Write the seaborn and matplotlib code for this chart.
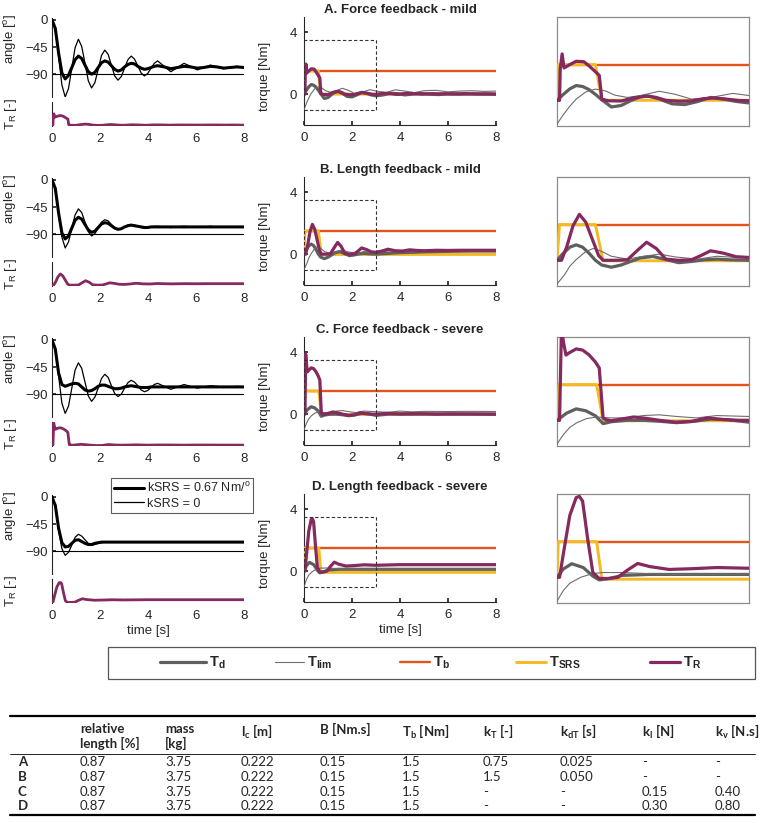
import numpy as np
import pandas as pd
import matplotlib
matplotlib.use('Agg')
import matplotlib.pyplot as plt
import seaborn as sns
from matplotlib.patches import Rectangle
from matplotlib.lines import Line2D

# ------------------------------------------------------------------ data
ROW_TITLES = ['A. Force feedback - mild', 'B. Length feedback - mild',
              'C. Force feedback - severe', 'D. Length feedback - severe']

ANGLE_T = [0, 0.1375, 0.275, 0.4125, 0.55, 0.6875, 0.825, 0.9625, 1.1, 1.2375, 1.375,
           1.5125, 1.65, 1.7875, 1.925, 2.0625, 2.2, 2.3375, 2.475, 2.6125, 2.75, 2.8875,
           3.025, 3.1625, 3.3, 3.4375, 3.575, 3.7125, 3.85, 3.9875, 4.125, 4.2625, 4.4,
           4.675, 4.95, 5.225, 5.5, 5.775, 6.05, 6.325, 6.6, 6.875, 7.15, 7.425, 7.7, 8.0]

A_ANG_NO = [0, -15, -60, -108, -128, -114, -80, -46, -32, -44, -72, -101, -113, -104, -82, -59,
            -50, -57, -75, -93, -100, -94, -80, -66, -60, -65, -76, -88, -93, -89, -80, -72, -68,
            -77, -86, -79, -72, -77, -83, -79, -75, -78, -81, -79, -77, -79]
A_ANG_SRS = [0, -14, -55, -88, -98, -92, -79, -66, -60, -64, -75, -86, -90, -87, -79, -71,
             -68, -70, -76, -82, -85, -83, -78, -74, -72, -73, -77, -80, -82, -81, -79, -77, -76,
             -78, -81, -79, -77, -78, -80, -79, -77, -78, -80, -79, -78, -79]
B_ANG_NO = [0, -14, -55, -95, -113, -103, -80, -58, -48, -54, -70, -86, -93, -89, -80, -70,
            -66, -68, -74, -80, -82, -81, -78, -75, -74, -75, -77, -79, -80, -80, -78, -77, -77,
            -78, -79, -78, -77, -78, -78, -78, -77, -78, -78, -78, -78, -78]
B_ANG_SRS = [0, -14, -55, -88, -98, -93, -80, -67, -62, -65, -74, -83, -87, -85, -79, -73,
             -71, -72, -76, -80, -82, -81, -78, -76, -75, -76, -77, -78, -79, -79, -78, -78, -78,
             -78, -78, -78, -78, -78, -78, -78, -78, -78, -78, -78, -78, -78]
C_ANG_NO = [0, -15, -60, -105, -122, -110, -80, -50, -38, -47, -70, -93, -102, -95, -80, -64,
            -57, -62, -76, -89, -94, -90, -80, -71, -67, -70, -76, -83, -86, -84, -79, -74, -72,
            -77, -82, -78, -74, -77, -80, -78, -76, -77, -79, -78, -77, -78]
C_ANG_SRS = [0, -15, -55, -74, -77, -75, -73, -72, -73, -78, -83, -85, -84, -81, -77, -75,
             -75, -77, -79, -81, -81, -80, -78, -77, -76, -77, -78, -79, -79, -79, -78, -78, -78,
             -78, -78, -78, -78, -78, -78, -78, -78, -78, -78, -78, -78, -78]
D_ANG_NO = [0, -14, -55, -86, -97, -92, -80, -67, -62, -65, -71, -77, -80, -79, -77, -76,
            -75, -75, -75, -75, -75, -75, -75, -75, -75, -75, -75, -75, -75, -75, -75, -75, -75,
            -75, -75, -75, -75, -75, -75, -75, -75, -75, -75, -75, -75, -75]
D_ANG_SRS = [0, -14, -52, -76, -83, -82, -77, -72, -71, -74, -77, -79, -79, -77, -76, -75,
             -75, -75, -75, -75, -75, -75, -75, -75, -75, -75, -75, -75, -75, -75, -75, -75, -75,
             -75, -75, -75, -75, -75, -75, -75, -75, -75, -75, -75, -75, -75]

TB_T = [0, 8]
TB_V = [1.5, 1.5]

# Row A
A_TR_T = [0, 0.04, 0.05, 0.08, 0.11, 0.2, 0.3, 0.42, 0.5, 0.6, 0.66, 0.7, 0.8, 1.0, 1.2, 1.4,
          1.55, 1.7, 1.9, 2.1, 2.3, 2.45, 2.65, 2.85, 3.0, 3.3, 3.6, 3.9, 4.2, 4.5, 4.9, 5.3,
          5.7, 6.2, 6.7, 7.2, 7.6, 8.0]
A_TR_V = [0, 0, 1.3, 1.95, 1.36, 1.5, 1.64, 1.62, 1.45, 1.2, 1.05, 0.05, -0.02, -0.03, 0.1,
          0.18, 0.12, 0.0, -0.04, -0.03, 0.07, 0.1, 0.05, -0.01, -0.02, 0.06, 0.03, -0.02, 0.04,
          0.04, 0.0, 0.03, 0.02, 0.01, 0.03, 0.01, 0.02, 0.0]
A_SRS_T = [0, 0.02, 0.6, 0.7, 8.0]
A_SRS_V = [0, 1.5, 1.5, 0.0, 0.0]
A_TD_T = [0, 0.1, 0.2, 0.3, 0.4, 0.5, 0.6, 0.7, 0.85, 1.0, 1.15, 1.3, 1.45, 1.6, 1.8, 2.0, 2.2,
          2.4, 2.6, 2.8, 3.0, 3.3, 3.6, 3.9, 4.2, 4.5, 4.8, 5.2, 5.6, 6.0, 6.5, 7.0, 7.5, 8.0]
A_TD_V = [0, 0.25, 0.48, 0.62, 0.58, 0.45, 0.25, 0.02, -0.28, -0.22, -0.02, 0.15, 0.17, 0.05,
          -0.15, -0.18, -0.05, 0.12, 0.05, -0.05, -0.11, -0.05, 0.06, 0.03, -0.05, 0.0, 0.05,
          0.0, -0.03, 0.03, 0.0, 0.02, 0.0, 0.0]
A_LIM_T = [0, 0.1, 0.2, 0.3, 0.45, 0.6, 0.75, 0.9, 1.1, 1.3, 1.6, 1.85, 2.1, 2.4, 2.75, 3.0,
           3.4, 3.8, 4.2, 4.6, 5.0, 5.5, 6.0, 6.5, 7.0, 7.5, 8.0]
A_LIM_V = [-1.0, -0.6, -0.25, 0.05, 0.35, 0.47, 0.4, 0.22, 0.12, 0.2, 0.38, 0.25, 0.05, 0.12,
           0.29, 0.2, 0.1, 0.28, 0.2, 0.1, 0.22, 0.25, 0.15, 0.2, 0.22, 0.18, 0.2]

# Row B
B_TR_T = [0, 0.07, 0.15, 0.25, 0.35, 0.45, 0.55, 0.65, 0.72, 0.9, 1.1, 1.25, 1.4, 1.55, 1.7,
          1.9, 2.1, 2.25, 2.4, 2.6, 2.8, 3.0, 3.25, 3.5, 3.8, 4.1, 4.4, 4.7, 5.0, 5.5, 6.0, 6.5,
          7.0, 7.5, 8.0]
B_TR_V = [0, 0, 0.55, 1.45, 1.93, 1.6, 0.9, 0.2, 0.0, 0.0, 0.02, 0.4, 0.76, 0.5, 0.05, 0.0,
          0.02, 0.2, 0.4, 0.3, 0.15, 0.12, 0.2, 0.32, 0.22, 0.2, 0.28, 0.24, 0.22, 0.25, 0.24,
          0.25, 0.25, 0.25, 0.25]
B_SRS_T = [0, 0.04, 0.6, 0.72, 8.0]
B_SRS_V = [0, 1.5, 1.5, -0.02, -0.02]
B_TD_T = [0, 0.1, 0.2, 0.3, 0.4, 0.5, 0.6, 0.7, 0.85, 1.0, 1.15, 1.3, 1.5, 1.7, 1.9, 2.1, 2.3,
          2.5, 2.7, 3.0, 3.5, 4.0, 4.5, 5.0, 6.0, 7.0, 8.0]
B_TD_V = [0, 0.3, 0.55, 0.65, 0.55, 0.3, 0.0, -0.2, -0.29, -0.2, -0.05, 0.1, 0.16, 0.03, -0.1,
          -0.05, 0.02, 0.05, 0.02, 0.0, 0.05, 0.1, 0.12, 0.15, 0.18, 0.2, 0.2]
B_LIM_T = [0, 0.12, 0.2, 0.3, 0.45, 0.57, 0.7, 0.85, 1.1, 1.35, 1.6, 1.85, 2.2, 2.5, 2.8, 3.0,
           3.5, 4.0, 4.5, 5.0, 5.5, 6.0, 7.0, 8.0]
B_LIM_V = [-1.0, -0.6, -0.25, 0.03, 0.37, 0.5, 0.37, 0.17, 0.05, 0.17, 0.26, 0.14, 0.05, 0.17,
           0.12, 0.1, 0.2, 0.22, 0.18, 0.22, 0.2, 0.2, 0.2, 0.2]

# Row C
C_TR_T = [0, 0.04, 0.07, 0.1, 0.14, 0.2, 0.3, 0.4, 0.5, 0.6, 0.66, 0.72, 0.76, 0.85, 1.0, 1.2,
          1.4, 1.6, 1.85, 2.1, 2.35, 2.6, 2.85, 3.0, 3.5, 4.0, 4.5, 5.0, 5.5, 6.0, 7.0, 8.0]
C_TR_V = [0, 0.0, 3.9, 3.3, 2.74, 2.85, 3.0, 2.95, 2.75, 2.45, 2.2, 0.1, 0.03, -0.02, 0.05,
          0.14, 0.08, 0.0, -0.08, -0.05, 0.1, 0.03, 0.0, 0.0, 0.05, 0.0, 0.03, 0.02, 0.0, 0.02,
          0.01, 0.0]
C_SRS_T = [0, 0.03, 0.62, 0.72, 8.0]
C_SRS_V = [0, 1.5, 1.5, -0.02, -0.02]
C_TD_T = [0, 0.15, 0.3, 0.45, 0.6, 0.72, 0.85, 1.1, 1.35, 1.6, 1.87, 2.15, 2.4, 2.65, 3.0, 3.5,
          4.0, 4.5, 5.0, 6.0, 7.0, 8.0]
C_TD_V = [0, 0.3, 0.48, 0.4, 0.19, -0.14, -0.06, 0.0, 0.0, -0.04, -0.1, -0.04, 0.05, 0.03,
          -0.08, 0.0, 0.03, 0.0, 0.02, 0.0, 0.01, 0.0]
C_LIM_T = [0, 0.1, 0.2, 0.31, 0.46, 0.62, 0.83, 1.1, 1.35, 1.6, 1.87, 2.18, 2.5, 3.0, 3.5, 4.0,
           4.5, 5.0, 6.0, 7.0, 8.0]
C_LIM_V = [-1.0, -0.6, -0.3, -0.1, 0.07, 0.14, 0.1, 0.1, 0.2, 0.23, 0.16, 0.1, 0.2, 0.16, 0.12,
           0.2, 0.15, 0.18, 0.17, 0.18, 0.17]

# Row D
D_TR_T = [0, 0.04, 0.1, 0.2, 0.3, 0.35, 0.4, 0.48, 0.56, 0.66, 0.8, 0.95, 1.1, 1.26, 1.45, 1.75,
          2.1, 2.5, 3.0, 3.5, 4.0, 5.0, 6.0, 7.0, 8.0]
D_TR_V = [0, 0, 1.0, 2.6, 3.35, 3.4, 3.2, 1.6, 0.2, -0.05, -0.05, 0.0, 0.3, 0.58, 0.45, 0.33,
          0.36, 0.41, 0.38, 0.4, 0.42, 0.42, 0.42, 0.42, 0.42]
D_SRS_T = [0, 0.02, 0.62, 0.7, 8.0]
D_SRS_V = [0, 1.5, 1.5, -0.08, -0.08]
D_TD_T = [0, 0.1, 0.23, 0.41, 0.56, 0.66, 0.82, 1.02, 1.44, 2.0, 3.0, 4.0, 5.0, 6.0, 7.0, 8.0]
D_TD_V = [0, 0.35, 0.57, 0.41, 0.05, -0.11, -0.05, 0.08, 0.12, 0.12, 0.12, 0.12, 0.12, 0.12,
          0.12, 0.12]
D_LIM_T = [0, 0.1, 0.2, 0.37, 0.55, 0.7, 1.0, 1.5, 2.0, 3.0, 4.0, 5.0, 6.0, 7.0, 8.0]
D_LIM_V = [-1.0, -0.55, -0.25, 0.0, 0.15, 0.2, 0.2, 0.15, 0.13, 0.14, 0.14, 0.14, 0.14, 0.14,
           0.14]

ANG_NO = [A_ANG_NO, B_ANG_NO, C_ANG_NO, D_ANG_NO]
ANG_SRS = [A_ANG_SRS, B_ANG_SRS, C_ANG_SRS, D_ANG_SRS]
TR_T = [A_TR_T, B_TR_T, C_TR_T, D_TR_T]
TR_V = [A_TR_V, B_TR_V, C_TR_V, D_TR_V]
SRS_T = [A_SRS_T, B_SRS_T, C_SRS_T, D_SRS_T]
SRS_V = [A_SRS_V, B_SRS_V, C_SRS_V, D_SRS_V]
TD_T = [A_TD_T, B_TD_T, C_TD_T, D_TD_T]
TD_V = [A_TD_V, B_TD_V, C_TD_V, D_TD_V]
LIM_T = [A_LIM_T, B_LIM_T, C_LIM_T, D_LIM_T]
LIM_V = [A_LIM_V, B_LIM_V, C_LIM_V, D_LIM_V]

ZOOM_X = (0, 3)
ZOOM_Y = (-1, 3.5)

# table
TABLE_ROWS = ['A', 'B', 'C', 'D']
TABLE_HEADERS = ['relative\nlength [%]', 'mass\n[kg]', 'l$_c$ [m]', 'B [Nm.s]', 'T$_b$ [Nm]',
                 'k$_T$ [-]', 'k$_{dT}$ [s]', 'k$_l$ [N]', 'k$_v$ [N.s]']
REL_LENGTH = ['0.87', '0.87', '0.87', '0.87']
MASS = ['3.75', '3.75', '3.75', '3.75']
LC = ['0.222', '0.222', '0.222', '0.222']
BDAMP = ['0.15', '0.15', '0.15', '0.15']
TB_TAB = ['1.5', '1.5', '1.5', '1.5']
KT = ['0.75', '1.5', '-', '-']
KDT = ['0.025', '0.050', '-', '-']
KL = ['-', '-', '0.15', '0.30']
KV = ['-', '-', '0.40', '0.80']
TABLE_COLS = [REL_LENGTH, MASS, LC, BDAMP, TB_TAB, KT, KDT, KL, KV]

# ------------------------------------------------------------------ style
sns.set_theme(style='white')
plt.rcParams['font.family'] = ['Liberation Sans', 'DejaVu Sans']
plt.rcParams['mathtext.fontset'] = 'custom'
plt.rcParams['mathtext.rm'] = 'Liberation Sans'
plt.rcParams['mathtext.bf'] = 'Liberation Sans:bold'
plt.rcParams['mathtext.default'] = 'regular'

C_TD = '#5f5f5f'
C_LIM = '#6e6e6e'
C_TB = '#e2561d'
C_SRS = '#f5b921'
C_TR = '#85295e'
AX_C = '#262626'

LW = dict(td=2.3, lim=0.8, tb=1.7, srs=2.1, tr=2.3)
FS = 9.5

W, H = 762, 823
fig = plt.figure(figsize=(W / 100, H / 100), dpi=100)


def add_ax(x0, y0, x1, y1):
    return fig.add_axes([x0 / W, 1 - y1 / H, (x1 - x0) / W, (y1 - y0) / H])


def draw(ax, t, v, color, lw, z):
    sns.lineplot(x=t, y=v, ax=ax, color=color, linewidth=lw, estimator=None,
                 sort=False, legend=False, zorder=z)


ROW_OFF = [0, 160, 320, 477]

for i in range(4):
    off = ROW_OFF[i]
    axa = add_ax(52, 18 + off, 244, 97 + off)
    axr = add_ax(52, 102 + off, 244, 126 + off)
    axm = add_ax(304, 17 + off, 496, 125 + off)
    axz = add_ax(557, 17 + off, 749, 126 + off)

    # angle
    axa.axhline(-90, color='black', lw=0.8, zorder=1)
    draw(axa, ANGLE_T, ANG_NO[i], 'black', 0.9, 3)
    draw(axa, ANGLE_T, ANG_SRS[i], 'black', 2.2, 4)
    axa.set_xlim(0, 8)
    axa.set_ylim(-128, 3.3)
    axa.set_xticks([])
    axa.set_yticks([0, -45, -90])
    axa.tick_params(axis='y', direction='in', length=3, pad=3, labelsize=FS, colors=AX_C,
                    left=True)
    for s in ['top', 'right', 'bottom']:
        axa.spines[s].set_visible(False)
    axa.spines['left'].set_color(AX_C)
    axa.spines['left'].set_linewidth(0.8)
    axa.set_ylabel('angle [$^{o}$]', fontsize=FS)
    axa.yaxis.set_label_coords(-0.17, 0.74)

    # TR small
    draw(axr, TR_T[i], TR_V[i], C_TR, 2.0, 3)
    axr.set_xlim(0, 8)
    axr.set_ylim(-0.15, 4.0)
    axr.set_yticks([])
    axr.set_xticks([0, 2, 4, 6, 8])
    axr.tick_params(axis='x', length=0, pad=5, labelsize=FS, colors=AX_C)
    for s in ['top', 'right', 'bottom']:
        axr.spines[s].set_visible(False)
    axr.spines['left'].set_color(AX_C)
    axr.spines['left'].set_linewidth(0.8)
    axr.set_ylabel('T$_R$ [-]', fontsize=FS)
    axr.yaxis.set_label_coords(-0.17, 0.5)

    # torque overview and zoom
    for ax, xl, yl in [(axm, (0, 8), (-2, 5)), (axz, ZOOM_X, (ZOOM_Y[0] - 0.08, ZOOM_Y[1]))]:
        draw(ax, TB_T, TB_V, C_TB, LW['tb'], 2)
        draw(ax, SRS_T[i], SRS_V[i], C_SRS, LW['srs'], 3)
        draw(ax, TD_T[i], TD_V[i], C_TD, LW['td'], 4)
        draw(ax, LIM_T[i], LIM_V[i], C_LIM, LW['lim'], 5)
        draw(ax, TR_T[i], TR_V[i], C_TR, LW['tr'], 6)
        ax.set_xlim(*xl)
        ax.set_ylim(*yl)

    axm.add_patch(Rectangle((ZOOM_X[0], ZOOM_Y[0]), ZOOM_X[1] - ZOOM_X[0],
                            ZOOM_Y[1] - ZOOM_Y[0], fill=False, ls=(0, (3, 2)), lw=0.8,
                            edgecolor='#333333', zorder=7))
    axm.set_xticks([0, 2, 4, 6, 8])
    axm.set_yticks([0, 4])
    axm.tick_params(direction='in', length=3, pad=5, labelsize=FS, colors=AX_C,
                    left=True, bottom=True)
    for s in ['top', 'right']:
        axm.spines[s].set_visible(False)
    for s in ['left', 'bottom']:
        axm.spines[s].set_color(AX_C)
        axm.spines[s].set_linewidth(0.8)
    axm.set_ylabel('torque [Nm]', fontsize=FS)
    axm.yaxis.set_label_coords(-0.17, 0.45)
    axm.set_title(ROW_TITLES[i], fontsize=9.5, fontweight='bold', pad=3)

    axz.set_xticks([])
    axz.set_yticks([])
    for s in axz.spines.values():
        s.set_visible(True)
        s.set_color('#8c8c8c')
        s.set_linewidth(0.9)

    if i == 3:
        axr.set_xlabel('time [s]', fontsize=FS, labelpad=2)
        axm.set_xlabel('time [s]', fontsize=FS, labelpad=2)

# angle legend
ang_handles = [Line2D([], [], color='black', lw=2.2), Line2D([], [], color='black', lw=0.9)]
leg1 = fig.legend(ang_handles, ['kSRS = 0.67 Nm/$^{o}$', 'kSRS = 0'], loc='upper left',
                  bbox_to_anchor=(111 / W, 1 - 478 / H), fontsize=9, frameon=True,
                  fancybox=False, handlelength=2.4, handletextpad=0.2, borderpad=0.25,
                  labelspacing=0.2, borderaxespad=0)
leg1.get_frame().set_edgecolor('#333333')
leg1.get_frame().set_linewidth(0.8)

# torque legend (drawn entry by entry inside a frame)
LEG_COLORS = [C_TD, C_LIM, C_TB, C_SRS, C_TR]
LEG_LWS = [LW['td'], LW['lim'], LW['tb'], LW['srs'], LW['tr']]
LEG_LABELS = [r'$\mathbf{T_d}$', r'$\mathbf{T_{lim}}$', r'$\mathbf{T_b}$', r'$\mathbf{T_{SRS}}$',
              r'$\mathbf{T_R}$']
LEG_X = [(160, 206), (275, 304), (400, 430), (516, 546), (650, 680)]
LEG_Y = 662
for (x0, x1), c, lw, lab in zip(LEG_X, LEG_COLORS, LEG_LWS, LEG_LABELS):
    fig.add_artist(Line2D([x0 / W, x1 / W], [1 - LEG_Y / H, 1 - LEG_Y / H],
                          transform=fig.transFigure, color=c, lw=lw))
    fig.text((x1 + 3) / W, 1 - (LEG_Y + 1) / H, lab, ha='left', va='center', fontsize=10.5)
fig.add_artist(Rectangle((108 / W, 1 - 679 / H), (755 - 108) / W, 32 / H,
                         transform=fig.transFigure, fill=False, edgecolor='#555555', lw=0.9))

# table
TFONT = 'Lato'
COL_X = [80, 165, 241, 320, 402, 483, 560, 642, 715]
ROW_Y = [762, 777, 792, 806]
for x, h in zip(COL_X, TABLE_HEADERS):
    fig.text(x / W, 1 - 723 / H, h, ha='left', va='top', fontsize=9.5, fontweight='bold',
             family=TFONT, linespacing=1.2)
for y, r in zip(ROW_Y, TABLE_ROWS):
    fig.text(18 / W, 1 - y / H, r, ha='left', va='center', fontsize=9.5, fontweight='bold',
             family=TFONT)
for x, col in zip(COL_X, TABLE_COLS):
    for y, v in zip(ROW_Y, col):
        fig.text(x / W, 1 - y / H, v, ha='left', va='center', fontsize=9.5, family=TFONT)
for y, lw in [(716, 1.6), (754, 0.6), (815, 1.6)]:
    fig.add_artist(Line2D([10 / W, 755 / W], [1 - y / H, 1 - y / H], transform=fig.transFigure,
                          color='black', lw=lw))

fig.savefig('out.png', dpi=100)
